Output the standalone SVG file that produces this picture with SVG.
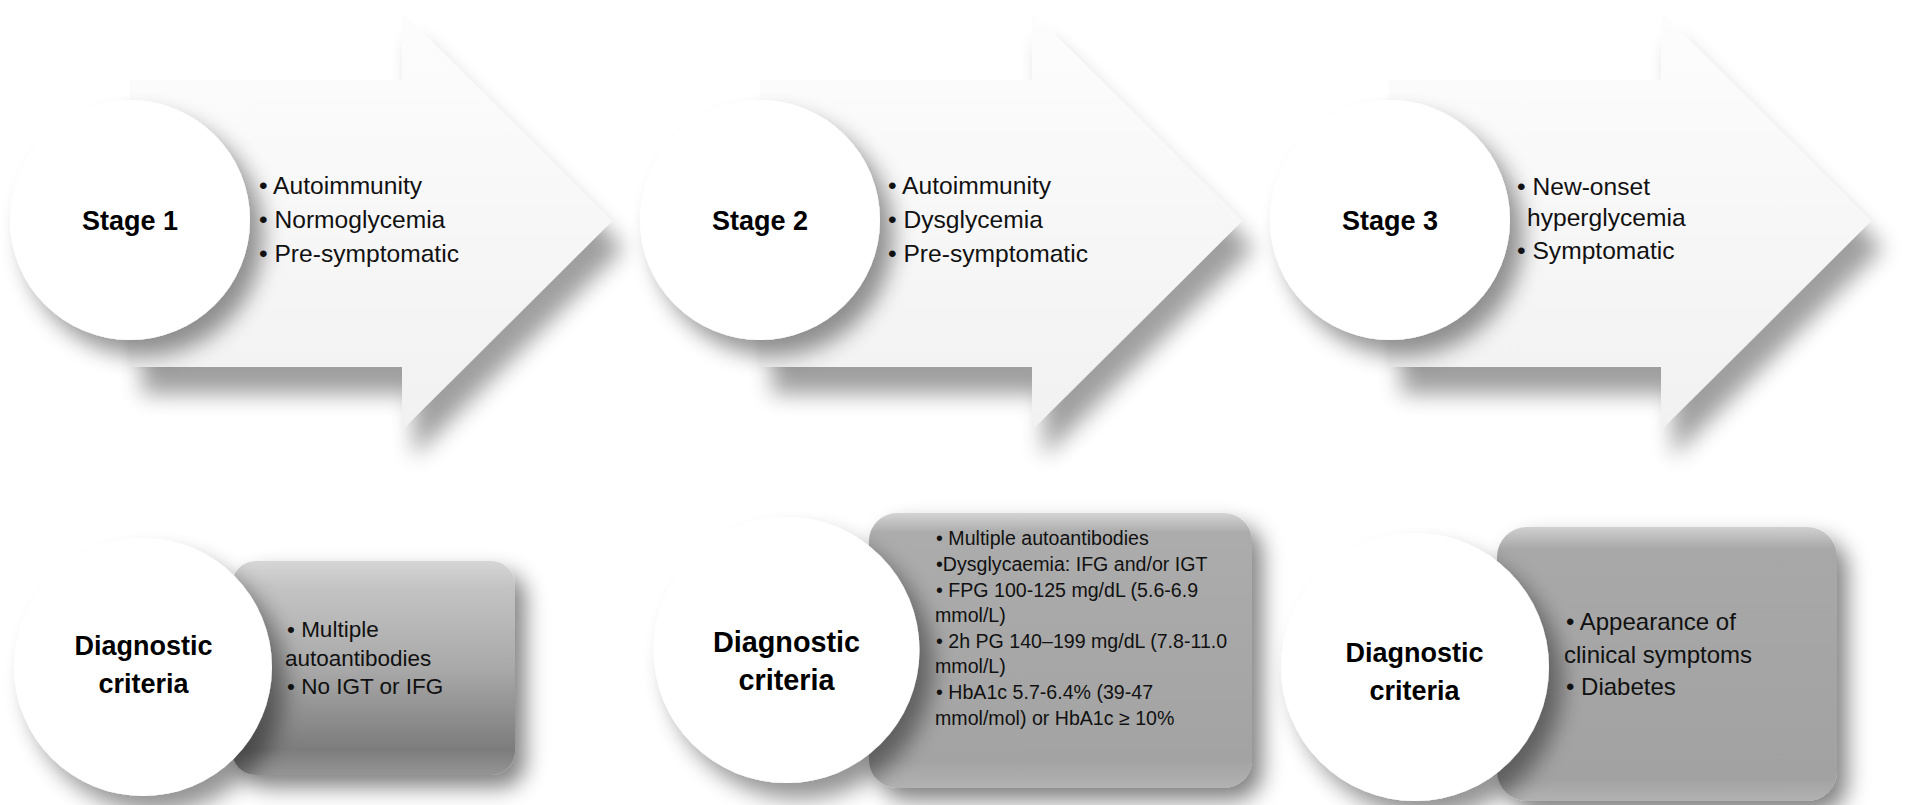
<svg xmlns="http://www.w3.org/2000/svg" width="1914" height="805" viewBox="0 0 1914 805">
<defs>
<style>
.lbl{font-family:"Liberation Sans",Arial,sans-serif;font-weight:bold;fill:#000;text-anchor:middle}
.txt{font-family:"Liberation Sans",Arial,sans-serif;fill:#111}
.s24{font-size:24px}
.s245{font-size:24.6px}
.arrow{fill:url(#gArrow)}
.circ{fill:#fff}
</style>
<linearGradient id="gArrow" x1="0" y1="0" x2="0" y2="1">
<stop offset="0" stop-color="#fdfdfd"/>
<stop offset="1" stop-color="#f1f1f1"/>
</linearGradient>
<linearGradient id="gBox1" x1="0" y1="0" x2="0" y2="1">
<stop offset="0" stop-color="#d6d6d6"/>
<stop offset="0.12" stop-color="#c4c4c4"/>
<stop offset="0.5" stop-color="#a9a9a9"/>
<stop offset="0.88" stop-color="#7c7c7c"/>
<stop offset="1" stop-color="#959595"/>
</linearGradient>
<linearGradient id="gBox2" x1="0" y1="0" x2="0" y2="1">
<stop offset="0" stop-color="#d4d4d4"/>
<stop offset="0.07" stop-color="#acacac"/>
<stop offset="0.9" stop-color="#a3a3a3"/>
<stop offset="1" stop-color="#b2b2b2"/>
</linearGradient>
<linearGradient id="gBox3" x1="0" y1="0" x2="0" y2="1">
<stop offset="0" stop-color="#d0d0d0"/>
<stop offset="0.08" stop-color="#a8a8a8"/>
<stop offset="0.92" stop-color="#a2a2a2"/>
<stop offset="1" stop-color="#b2b2b2"/>
</linearGradient>
<filter id="shArrow" x="-10%" y="-10%" width="130%" height="140%">
<feGaussianBlur in="SourceAlpha" stdDeviation="11"/>
<feOffset dx="12" dy="27"/>
<feComponentTransfer><feFuncA type="linear" slope="0.38"/></feComponentTransfer>
<feMerge><feMergeNode/><feMergeNode in="SourceGraphic"/></feMerge>
</filter>
<filter id="shCirc" x="-25%" y="-25%" width="160%" height="160%">
<feGaussianBlur in="SourceAlpha" stdDeviation="11"/>
<feOffset dx="13" dy="16"/>
<feComponentTransfer><feFuncA type="linear" slope="0.42"/></feComponentTransfer>
<feMerge><feMergeNode/><feMergeNode in="SourceGraphic"/></feMerge>
</filter>
<filter id="shBox" x="-15%" y="-15%" width="140%" height="140%">
<feGaussianBlur in="SourceAlpha" stdDeviation="11"/>
<feOffset dx="10" dy="12"/>
<feComponentTransfer><feFuncA type="linear" slope="0.5"/></feComponentTransfer>
<feMerge><feMergeNode/><feMergeNode in="SourceGraphic"/></feMerge>
</filter>
<path id="arrowShape" d="M130 80 H402 V12 L612 221 L402 430 V367 H130 Z"/>
</defs>
<rect width="1914" height="805" fill="#fff"/>

<g id="stage1">
<use href="#arrowShape" class="arrow" filter="url(#shArrow)"/>
<circle class="circ" cx="130" cy="220" r="120" filter="url(#shCirc)"/>
<text class="lbl" x="130" y="230" font-size="27">Stage 1</text>
<text class="txt s245" x="259" y="194">• Autoimmunity</text>
<text class="txt s245" x="259" y="228">• Normoglycemia</text>
<text class="txt s245" x="259" y="262">• Pre-symptomatic</text>
</g>

<g id="stage2">
<use href="#arrowShape" x="630" class="arrow" filter="url(#shArrow)"/>
<circle class="circ" cx="760" cy="220" r="120" filter="url(#shCirc)"/>
<text class="lbl" x="760" y="230" font-size="27">Stage 2</text>
<text class="txt s245" x="888" y="194">• Autoimmunity</text>
<text class="txt s245" x="888" y="228">• Dysglycemia</text>
<text class="txt s245" x="888" y="262">• Pre-symptomatic</text>
</g>

<g id="stage3">
<use href="#arrowShape" x="1259" class="arrow" filter="url(#shArrow)"/>
<circle class="circ" cx="1390" cy="220" r="120" filter="url(#shCirc)"/>
<text class="lbl" x="1390" y="230" font-size="27">Stage 3</text>
<text class="txt s245" x="1517" y="195">• New-onset</text>
<text class="txt s245" x="1527" y="226">hyperglycemia</text>
<text class="txt s245" x="1517" y="259">• Symptomatic</text>
</g>

<g id="criteria1">
<rect x="232" y="561" width="283" height="214" rx="24" fill="url(#gBox1)" filter="url(#shBox)"/>
<circle class="circ" cx="143" cy="667" r="129" filter="url(#shCirc)"/>
<text class="lbl" x="143.5" y="655" font-size="27">Diagnostic</text>
<text class="lbl" x="143.5" y="693" font-size="27">criteria</text>
<text class="txt" font-size="22.5" x="287" y="637">• Multiple</text>
<text class="txt" font-size="22.5" x="285" y="666">autoantibodies</text>
<text class="txt" font-size="22.5" x="287" y="694">• No IGT or IFG</text>
</g>

<g id="criteria2">
<rect x="869" y="513" width="383" height="275" rx="28" fill="url(#gBox2)" filter="url(#shBox)"/>
<circle class="circ" cx="786.5" cy="650" r="133" filter="url(#shCirc)"/>
<text class="lbl" x="786.5" y="652" font-size="28.8">Diagnostic</text>
<text class="lbl" x="786.5" y="690" font-size="28.8">criteria</text>
<g class="txt" font-size="19.6">
<text x="936" y="545">• Multiple autoantibodies</text>
<text x="936" y="571">•Dysglycaemia: IFG and/or IGT</text>
<text x="936" y="597">• FPG 100-125 mg/dL (5.6-6.9</text>
<text x="935" y="622">mmol/L)</text>
<text x="936" y="648">• 2h PG 140–199 mg/dL (7.8-11.0</text>
<text x="935" y="673">mmol/L)</text>
<text x="936" y="699">• HbA1c 5.7-6.4% (39-47</text>
<text x="935" y="725">mmol/mol) or HbA1c ≥ 10%</text>
</g>
</g>

<g id="criteria3">
<rect x="1497" y="527" width="340" height="274" rx="30" fill="url(#gBox3)" filter="url(#shBox)"/>
<circle class="circ" cx="1415" cy="667" r="134" filter="url(#shCirc)"/>
<text class="lbl" x="1414.5" y="662" font-size="27">Diagnostic</text>
<text class="lbl" x="1414.5" y="700" font-size="27">criteria</text>
<text class="txt s24" x="1566" y="630">• Appearance of</text>
<text class="txt s24" x="1564" y="663">clinical symptoms</text>
<text class="txt s24" x="1566" y="695">• Diabetes</text>
</g>

<g id="connectors"/>
</svg>
